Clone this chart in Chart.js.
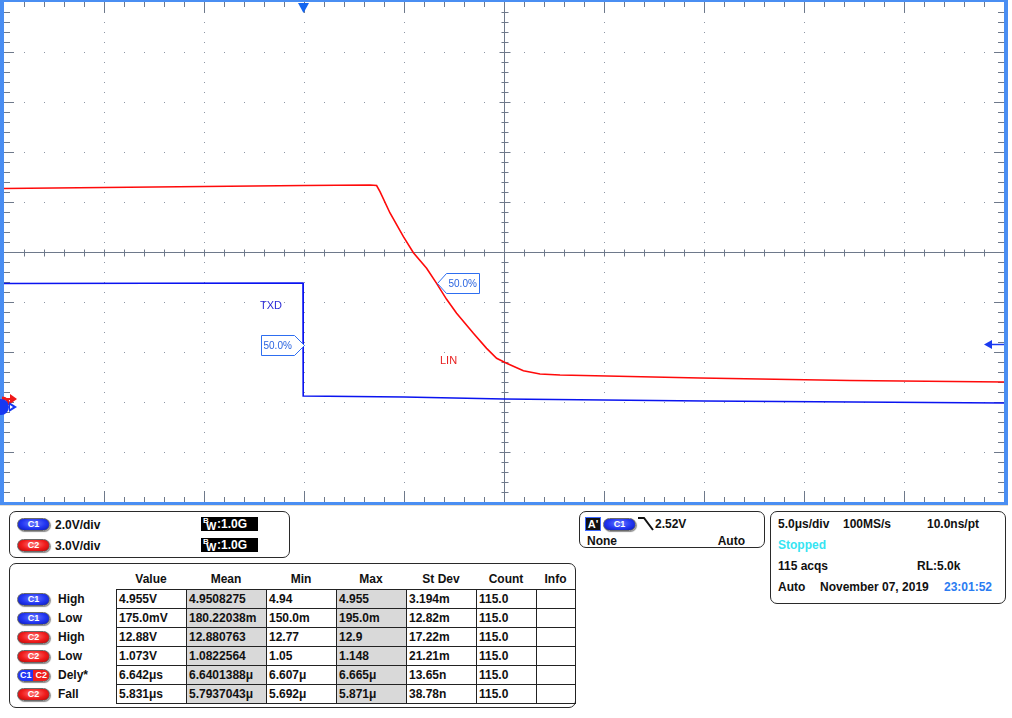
<!DOCTYPE html>
<html>
<head>
<meta charset="utf-8">
<script src="https://cdn.jsdelivr.net/npm/chart.js@4"></script>
<style>
  html,body{margin:0;padding:0;background:#fff;width:1012px;height:718px;overflow:hidden;font-family:"Liberation Sans",Arial,sans-serif;}
  #wrap{position:absolute;left:0;top:0;width:1008px;height:505px;}
  .panel{position:absolute;border:1px solid #2a2a2a;border-radius:7px;background:#fff;box-sizing:border-box;}
  .t{position:absolute;font:bold 12px "Liberation Sans",Arial,sans-serif;line-height:14px;color:#111;white-space:nowrap;}
  .pill{position:absolute;width:33px;height:13px;border-radius:7px;box-sizing:border-box;border:1px solid #6a6a6a;
        box-shadow:1px 1px 1px rgba(0,0,0,0.45);
        color:#fff;font:bold 9px "Liberation Sans",Arial,sans-serif;line-height:11px;text-align:center;overflow:hidden;}
  .c1{background:radial-gradient(ellipse at 50% 40%,#6a7aff 0%,#2236f2 55%,#0c1ab0 100%);}
  .c2{background:radial-gradient(ellipse at 50% 40%,#ff7a7a 0%,#f01c1c 55%,#b00808 100%);}
  .c12{background:linear-gradient(90deg,#2236f2 0%,#2236f2 50%,#f01c1c 50%,#f01c1c 100%);}
  .c12 span{display:inline-block;width:50%;}
  .bw{position:absolute;background:#000;color:#fff;width:57px;height:14px;font:bold 12px "Liberation Sans",Arial,sans-serif;line-height:14px;}
  .bw .b{position:absolute;left:2px;top:-3px;font-size:8px;}
  .bw .w{position:absolute;left:5px;top:2px;font-size:11px;}
  .bw .v{position:absolute;left:16px;top:0px;}
  table.m{position:absolute;left:116px;top:589px;border-collapse:collapse;table-layout:fixed;}
  table.m tr{height:19px;}
  table.m td{border:1px solid #222;padding:0 0 0 2px;font:bold 12px "Liberation Sans",Arial,sans-serif;color:#111;white-space:nowrap;overflow:hidden;}
  table.m td.g{background:#d9d9d9;}
</style>
</head>
<body>
<div id="wrap"><canvas id="c" width="1008" height="505"></canvas></div>
<div style="position:absolute;left:0;top:505px;width:1008px;height:1px;background:#e6dfd2;"></div>

<!-- channel panel -->
<div class="panel" style="left:9px;top:511px;width:281px;height:47px;"></div>
<div id="chanRows"></div>

<!-- trigger panel -->
<div class="panel" style="left:579px;top:511px;width:186px;height:37px;"></div>
<div style="position:absolute;left:585px;top:517px;width:16px;height:14px;background:#111;box-sizing:border-box;border:1px solid #3a66ff;color:#fff;font:bold 11px 'Liberation Sans',Arial;line-height:12px;text-align:center;">A'</div>
<div class="pill c1" style="left:603px;top:518px;">C1</div>
<svg style="position:absolute;left:636px;top:515px;" width="20" height="18"><polyline points="2,3 8,3 17,15" fill="none" stroke="#111" stroke-width="2"/></svg>
<div class="t" id="trigLevel" style="left:655px;top:517px;"></div>
<div class="t" id="trigMode" style="left:587px;top:534px;"></div>
<div class="t" id="trigAuto" style="left:705px;top:534px;width:40px;text-align:right;"></div>

<!-- timebase panel -->
<div class="panel" style="left:770px;top:511px;width:236px;height:93px;"></div>
<div id="tbTexts"></div>

<!-- measurement panel -->
<div class="panel" style="left:9px;top:563px;width:567px;height:145px;"></div>
<div id="measHead"></div>
<div id="measLabels"></div>
<table class="m" id="measTable"></table>

<script>
// ---------------- data ----------------
const timeMin = -15, timeMax = 35;            // µs, 5 µs/div, 10 div
const c1Min = -3.8, c1Max = 16.2;             // V, 2 V/div
const c2Min = -6.18, c2Max = 23.82;           // V, 3 V/div

const txdTime  = [-15, -0.05, -0.04, 5, 10, 20, 35];
const txdVolts = [4.94, 4.96, 0.44, 0.40, 0.32, 0.24, 0.16];

const linTime  = [-15, -10, -5, 0, 3.3, 3.63, 3.8, 4.3, 4.97, 5.47, 6.13, 6.63, 7.13, 7.63, 8.47, 9.13, 9.63, 10.13, 10.97, 11.8, 12.8, 19.8, 27.3, 35];
const linVolts = [12.63, 12.69, 12.75, 12.81, 12.84, 12.81, 12.44, 11.16, 9.74, 8.78, 7.84, 6.94, 5.98, 5.14, 3.94, 3.04, 2.44, 2.14, 1.70, 1.50, 1.44, 1.26, 1.11, 1.02];

const txdCross = {t: 0, v: 2.5};     // 50% marker on TXD
const linCross = {t: 6.63, v: 6.94}; // 50% marker on LIN
const trigLevelV = 2.52;

const chanNames  = ['C1', 'C2'];
const chanScales = ['2.0V/div', '3.0V/div'];
const chanBW     = ['1.0G', '1.0G'];

const trigTexts = ['2.52V', 'None', 'Auto'];
const tbRow1 = ['5.0μs/div', '100MS/s', '10.0ns/pt'];
const tbStatus = 'Stopped';
const tbRow3 = ['115 acqs', 'RL:5.0k'];
const tbRow4 = ['Auto', 'November 07, 2019', '23:01:52'];

const measHeaders = ['Value', 'Mean', 'Min', 'Max', 'St Dev', 'Count', 'Info'];
const measChan  = ['C1', 'C1', 'C2', 'C2', 'C1C2', 'C2'];
const measName  = ['High', 'Low', 'High', 'Low', 'Dely*', 'Fall'];
const measValue = ['4.955V', '175.0mV', '12.88V', '1.073V', '6.642μs', '5.831μs'];
const measMean  = ['4.9508275', '180.22038m', '12.880763', '1.0822564', '6.6401388μ', '5.7937043μ'];
const measMinV  = ['4.94', '150.0m', '12.77', '1.05', '6.607μ', '5.692μ'];
const measMaxV  = ['4.955', '195.0m', '12.9', '1.148', '6.665μ', '5.871μ'];
const measStd   = ['3.194m', '12.82m', '17.22m', '21.21m', '13.65n', '38.78n'];
const measCount = ['115.0', '115.0', '115.0', '115.0', '115.0', '115.0'];

// ---------------- panels ----------------
function addText(parent, txt, left, centerY, extra){
  const d = document.createElement('div');
  d.className = 't'; d.textContent = txt;
  d.style.left = left + 'px'; d.style.top = (centerY - 7) + 'px';
  if (extra) Object.assign(d.style, extra);
  parent.appendChild(d); return d;
}
function addPill(parent, ch, left, top){
  const p = document.createElement('div');
  p.className = 'pill ' + (ch === 'C1' ? 'c1' : ch === 'C2' ? 'c2' : 'c12');
  if (ch === 'C1C2') p.innerHTML = '<span>C1</span><span>C2</span>'; else p.textContent = ch;
  p.style.left = left + 'px'; p.style.top = top + 'px';
  parent.appendChild(p);
}
const chanRows = document.getElementById('chanRows');
chanNames.forEach((n, i) => {
  const cy = 524.5 + i * 21;
  addPill(chanRows, n, 17, cy - 6.5);
  addText(chanRows, chanScales[i], 55, cy);
  const b = document.createElement('div'); b.className = 'bw';
  b.style.left = '201px'; b.style.top = (cy - 7.5) + 'px';
  b.innerHTML = '<span class="b">B</span><span class="w">W</span><span class="v">:' + chanBW[i] + '</span>';
  chanRows.appendChild(b);
});
document.getElementById('trigLevel').textContent = trigTexts[0];
document.getElementById('trigMode').textContent = trigTexts[1];
document.getElementById('trigAuto').textContent = trigTexts[2];

const tb = document.getElementById('tbTexts');
addText(tb, tbRow1[0], 778, 524);
addText(tb, tbRow1[1], 843, 524);
addText(tb, tbRow1[2], 927, 524);
addText(tb, tbStatus, 778, 545, {color: '#36e4f2'});
addText(tb, tbRow3[0], 778, 566);
addText(tb, tbRow3[1], 917, 566);
addText(tb, tbRow4[0], 778, 587);
addText(tb, tbRow4[1], 820, 587);
addText(tb, tbRow4[2], 944, 587, {color: '#2a7cf2'});

const colX = [116, 186, 266, 336, 406, 476, 536, 575];
const mh = document.getElementById('measHead');
measHeaders.forEach((h, i) => {
  addText(mh, h, colX[i], 578.5, {width: (colX[i + 1] - colX[i]) + 'px', textAlign: 'center'});
});
const ml = document.getElementById('measLabels');
const tbl = document.getElementById('measTable');
let cg = '<colgroup>';
for (let i = 0; i < 7; i++) cg += '<col style="width:' + (colX[i + 1] - colX[i]) + 'px">';
cg += '</colgroup>';
let rows = '';
measName.forEach((n, r) => {
  const cy = 599 + r * 19;
  addPill(ml, measChan[r], 17, cy - 6.5);
  addText(ml, n, 58, cy);
  rows += '<tr><td>' + measValue[r] + '</td><td class="g">' + measMean[r] + '</td><td>' + measMinV[r] +
          '</td><td class="g">' + measMaxV[r] + '</td><td>' + measStd[r] + '</td><td>' + measCount[r] + '</td><td></td></tr>';
});
tbl.innerHTML = cg + rows;
tbl.style.width = (colX[7] - colX[0]) + 'px';

// ---------------- chart ----------------
const toPts = (ts, vs) => ts.map((t, i) => ({x: t, y: vs[i]}));
const tickCol = '#6e798b';

const scopePlugin = {
  id: 'scope',
  beforeDatasetsDraw(chart) {
    const {ctx, chartArea: a, scales: {x}} = chart;
    const H = a.bottom - a.top, dy = H / 10;
    const gx = i => x.getPixelForValue(timeMin + i * (timeMax - timeMin) / 10);
    const dx = gx(1) - gx(0);
    ctx.save();
    // dotted graticule
    ctx.fillStyle = '#8d96a5';
    for (let i = 1; i < 10; i++) {
      if (i === 5) continue;
      const px = Math.round(gx(i));
      for (let k = 1; k < 50; k++) ctx.fillRect(px, Math.round(a.top + k * dy / 5), 1, 1);
    }
    for (let j = 1; j < 10; j++) {
      if (j === 5) continue;
      const py = Math.round(a.top + j * dy);
      for (let k = 1; k < 50; k++) ctx.fillRect(Math.round(a.left + k * dx / 5), py, 1, 1);
    }
    ctx.strokeStyle = tickCol; ctx.lineWidth = 1;
    const cx = Math.round(gx(5)) + 0.5, cy = Math.round(a.top + 5 * dy) + 0.5;
    ctx.beginPath();
    ctx.moveTo(a.left, cy); ctx.lineTo(a.right, cy);
    ctx.moveTo(cx, a.top); ctx.lineTo(cx, a.bottom);
    for (let k = 1; k < 50; k++) {
      const px = Math.round(a.left + k * dx / 5) + 0.5;
      ctx.moveTo(px, cy - 3); ctx.lineTo(px, cy + 4);
    }
    for (let k = 1; k < 50; k++) {
      const py = Math.round(a.top + k * dy / 5) + 0.5;
      const L = (k % 5 === 0) ? 5 : 3;
      ctx.moveTo(cx - L, py); ctx.lineTo(cx + L + 1, py);
    }
    for (let k = 1; k < 50; k++) {
      const px = Math.round(a.left + k * dx / 5) + 0.5;
      const L = (k % 5 === 0) ? 11 : 5;
      ctx.moveTo(px, a.top); ctx.lineTo(px, a.top + L);
      ctx.moveTo(px, a.bottom); ctx.lineTo(px, a.bottom - L);
    }
    for (let k = 1; k < 50; k++) {
      const py = Math.round(a.top + k * dy / 5) + 0.5;
      const L = (k % 5 === 0) ? 10 : 6;
      ctx.moveTo(a.left, py); ctx.lineTo(a.left + L, py);
      ctx.moveTo(a.right, py); ctx.lineTo(a.right - L, py);
    }
    ctx.stroke();
    ctx.restore();
  },
  afterDraw(chart) {
    const {ctx, chartArea: a, scales: {x, y1, y2}} = chart;
    ctx.save();
    ctx.fillStyle = '#4a8ef2';
    ctx.fillRect(0, 0, chart.width, a.top);
    ctx.fillRect(0, 0, a.left, chart.height);
    ctx.fillRect(a.right, 0, chart.width - a.right, chart.height);
    ctx.fillRect(0, a.bottom, chart.width, chart.height - a.bottom);

    const tx = x.getPixelForValue(0) - 0.5;
    ctx.fillStyle = '#1466f0';
    ctx.beginPath(); ctx.moveTo(tx - 5.5, a.top + 1); ctx.lineTo(tx + 5.5, a.top + 1); ctx.lineTo(tx, a.top + 11); ctx.closePath(); ctx.fill();

    const ty = Math.round(y1.getPixelForValue(trigLevelV)) + 0.5;
    ctx.fillStyle = '#1a3af0'; ctx.strokeStyle = '#1a3af0'; ctx.lineWidth = 1.5;
    ctx.beginPath(); ctx.moveTo(a.right - 20, ty); ctx.lineTo(a.right - 12, ty - 4.5); ctx.lineTo(a.right - 12, ty + 4.5); ctx.closePath(); ctx.fill();
    ctx.beginPath(); ctx.moveTo(a.right - 13, ty); ctx.lineTo(a.right, ty); ctx.stroke();

    const g2 = y2.getPixelForValue(0), g1 = y1.getPixelForValue(0);
    ctx.fillStyle = '#f01818'; ctx.strokeStyle = '#f01818'; ctx.lineWidth = 3;
    ctx.beginPath(); ctx.arc(2, g2 + 6, 7, -Math.PI * 0.5, 0); ctx.stroke();
    ctx.beginPath(); ctx.moveTo(10, g2 - 5); ctx.lineTo(17, g2); ctx.lineTo(10, g2 + 5); ctx.closePath(); ctx.fill();
    ctx.beginPath(); ctx.moveTo(2, g2); ctx.lineTo(12, g2); ctx.lineWidth = 2; ctx.stroke();
    ctx.fillStyle = '#1638f2';
    ctx.beginPath(); ctx.arc(1, g1, 8, 0, Math.PI * 2); ctx.fill();
    ctx.beginPath(); ctx.moveTo(9, g1 - 5); ctx.lineTo(17, g1); ctx.lineTo(9, g1 + 5); ctx.closePath(); ctx.fill();
    ctx.fillStyle = '#ffffff';
    ctx.beginPath(); ctx.moveTo(10, g1 - 2); ctx.lineTo(13, g1); ctx.lineTo(10, g1 + 2); ctx.closePath(); ctx.fill();

    ctx.font = '11px "Liberation Sans", Arial, sans-serif';
    ctx.textBaseline = 'middle';
    ctx.fillStyle = '#2a2ad6';
    ctx.fillText('TXD', 260, 306);
    ctx.fillStyle = '#e82020';
    ctx.fillText('LIN', 440, 361);

    ctx.font = '10px "Liberation Sans", Arial, sans-serif';
    ctx.lineWidth = 1; ctx.strokeStyle = '#2e6ef0';
    const p1x = Math.round(x.getPixelForValue(txdCross.t)) + 0.5, p1y = Math.round(y1.getPixelForValue(txdCross.v)) + 0.5;
    ctx.fillStyle = '#ffffff';
    ctx.beginPath();
    ctx.moveTo(p1x, p1y); ctx.lineTo(p1x - 10, p1y - 10); ctx.lineTo(p1x - 43, p1y - 10);
    ctx.lineTo(p1x - 43, p1y + 10); ctx.lineTo(p1x - 10, p1y + 10); ctx.closePath();
    ctx.fill(); ctx.stroke();
    ctx.fillStyle = '#2a64e0';
    ctx.fillText('50.0%', p1x - 41, p1y + 1);

    const p2x = Math.round(x.getPixelForValue(linCross.t)) + 0.5, p2y = Math.round(y2.getPixelForValue(linCross.v)) + 0.5;
    ctx.fillStyle = '#ffffff';
    ctx.beginPath();
    ctx.moveTo(p2x, p2y); ctx.lineTo(p2x + 9, p2y - 10); ctx.lineTo(p2x + 42, p2y - 10);
    ctx.lineTo(p2x + 42, p2y + 10); ctx.lineTo(p2x + 9, p2y + 10); ctx.closePath();
    ctx.fill(); ctx.stroke();
    ctx.fillStyle = '#2a64e0';
    ctx.fillText('50.0%', p2x + 11, p2y + 1);
    ctx.restore();
  }
};

new Chart(document.getElementById('c'), {
  type: 'line',
  data: {
    datasets: [
      {label: 'LIN', data: toPts(linTime, linVolts), yAxisID: 'y2', borderColor: '#ff0a0a', borderWidth: 1.6, pointRadius: 0, tension: 0},
      {label: 'TXD', data: toPts(txdTime, txdVolts), yAxisID: 'y1', borderColor: '#0a14f0', borderWidth: 1.6, pointRadius: 0, tension: 0}
    ]
  },
  options: {
    responsive: false,
    animation: false,
    devicePixelRatio: 1,
    layout: {padding: {left: 4, right: 4, top: 2, bottom: 3}},
    plugins: {legend: {display: false}, tooltip: {enabled: false}},
    scales: {
      x: {type: 'linear', min: timeMin, max: timeMax, display: false},
      y1: {type: 'linear', min: c1Min, max: c1Max, display: false},
      y2: {type: 'linear', min: c2Min, max: c2Max, display: false}
    }
  },
  plugins: [scopePlugin]
});
</script>
</body>
</html>
